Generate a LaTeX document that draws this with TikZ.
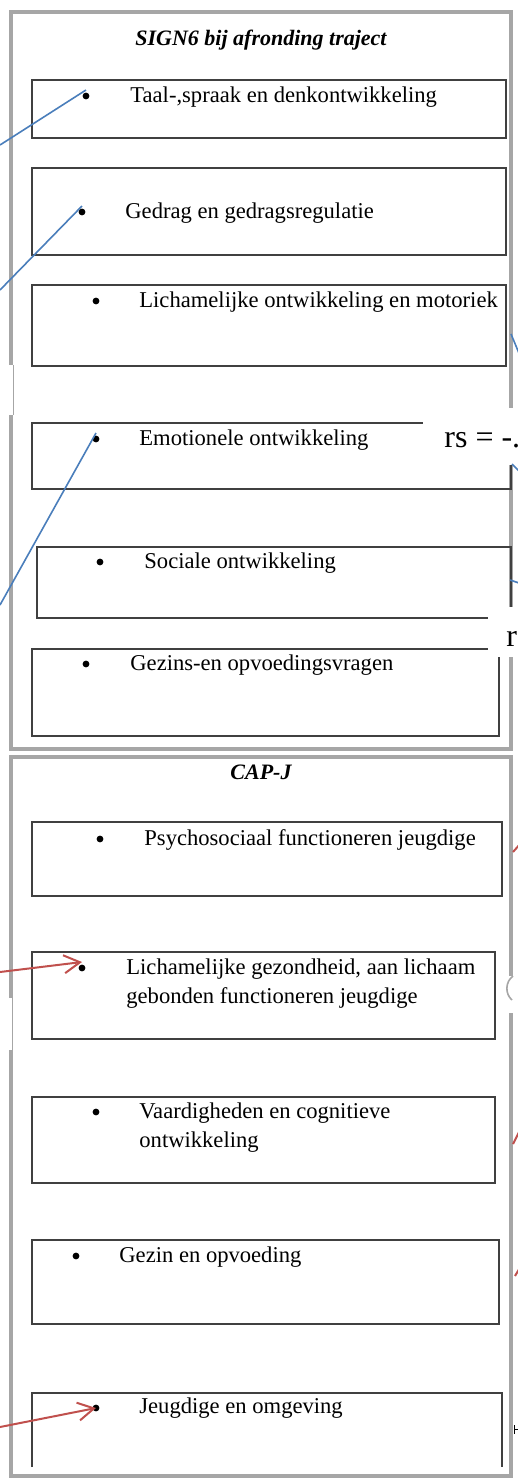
\documentclass[tikz,border=0pt]{standalone}
\usepackage{fontspec}
\setmainfont{Liberation Serif}
\usetikzlibrary{arrows.meta}
\definecolor{framegray}{RGB}{166,166,166}
\definecolor{boxgray}{RGB}{64,64,64}
\definecolor{signblue}{RGB}{74,126,187}
\definecolor{capred}{RGB}{192,80,77}
\tikzset{%
  panel/.style    = {draw=framegray, line width=2pt},
  item/.style     = {draw=boxgray, line width=0.6pt, rectangle, anchor=north west,
    inner sep=0pt, outer sep=0pt},
  bullet/.style   = {circle, fill=black, inner sep=0pt, minimum size=3.4pt, outer sep=1.3pt},
  txt/.style      = {anchor=base west, inner sep=0pt, align=left},
  heading/.style  = {anchor=base, inner sep=0pt, font=\fontsize{11}{14}\selectfont\bfseries\itshape},
  mask/.style     = {fill=white, draw=none},
  signlink/.style = {draw=signblue, line width=0.8pt},
  caplink/.style  = {draw=capred, line width=1pt, -{Straight Barb[length=8pt,width=9pt]}},
  input/.style    = {coordinate} % free end
}
\begin{document}
\begin{tikzpicture}[x=0.5pt, y=-0.5pt, font=\fontsize{11.3}{14.5}\selectfont]
  \useasboundingbox (0,0) rectangle (518,1479);
  % two panels
  \draw[panel] (11,12) rectangle (511,749);
  \draw[panel] (11,757) rectangle (511,1476);
  \fill[mask] (0,365) rectangle (14,415);
  \draw[framegray, line width=0.4pt] (13,365) -- (13,415);
  \fill[mask] (0,998) rectangle (14,1050);
  \draw[framegray, line width=0.4pt] (12,998) -- (12,1050);
  \fill[mask] (505,976) rectangle (518,1013);
  \draw[framegray, line width=0.8pt] (513,976) .. controls (505,982) and (505,994) .. (512,1000);

  \node[heading] (sign) at (261,45) {SIGN6 bij afronding traject};
  \node[heading] (capj) at (261,779) {CAP-J};

  % SIGN6 boxes
  \node[item, minimum width=237pt, minimum height=29pt] (taal) at (32,80) {};
  \node[item, minimum width=237pt, minimum height=43.5pt] (gedrag) at (32,168) {};
  \node[item, minimum width=237pt, minimum height=40.5pt] (lichaam) at (32,285) {};
  \node[item, minimum width=239.5pt, minimum height=33pt] (emotie) at (32,423) {};
  \node[item, minimum width=237pt, minimum height=35.5pt] (sociaal) at (37,547) {};
  \node[item, minimum width=233.5pt, minimum height=43.5pt] (gezins) at (32,649) {};
  % CAP-J boxes
  \node[item, minimum width=235pt, minimum height=37pt] (psycho) at (32,822) {};
  \node[item, minimum width=231.5pt, minimum height=43.5pt] (gezond) at (32,952) {};
  \node[item, minimum width=231.5pt, minimum height=43pt] (vaardig) at (32,1097) {};
  \node[item, minimum width=233.5pt, minimum height=42pt] (gezin) at (32,1240) {};
  \draw[boxgray, line width=0.6pt] (32,1467) |- (502,1393) -- (502,1467);

  \node[bullet] (b1) at (86,96) {};
  \node[txt] (t1) at (130,102) {Taal-,spraak en denkontwikkeling};
  \node[bullet] (b2) at (82,212) {};
  \node[txt] (t2) at (125,218) {Gedrag en gedragsregulatie};
  \node[bullet] (b3) at (96,301) {};
  \node[txt] (t3) at (139,307) {Lichamelijke ontwikkeling en motoriek};
  \node[bullet] (b4) at (96,439) {};
  \node[txt] (t4) at (139,445) {Emotionele ontwikkeling};
  \node[bullet] (b5) at (100,562) {};
  \node[txt] (t5) at (144,568) {Sociale ontwikkeling};
  \node[bullet] (b6) at (86,664) {};
  \node[txt] (t6) at (130,670) {Gezins-en opvoedingsvragen};
  \node[bullet] (b7) at (100,839) {};
  \node[txt] (t7) at (144,845) {Psychosociaal functioneren jeugdige};
  \node[bullet] (b8) at (82,968) {};
  \node[txt] (t8) at (126,1003) {Lichamelijke gezondheid, aan lichaam\\gebonden functioneren jeugdige};
  \node[bullet] (b9) at (96,1112) {};
  \node[txt] (t9) at (139,1147) {Vaardigheden en cognitieve\\ontwikkeling};
  \node[bullet] (b10) at (76,1256) {};
  \node[txt] (t10) at (119,1262) {Gezin en opvoeding};
  \node[bullet] (b11) at (96,1408) {};
  \node[txt] (t11) at (139,1413) {Jeugdige en omgeving};

  % labels cut off at the right
  \fill[mask] (423,408) rectangle (520,465);
  \node[txt, font=\fontsize{16}{18}\selectfont] (rs1) at (444,447) {rs = -.3};
  \fill[mask] (488,607) rectangle (520,657);
  \node[txt, font=\fontsize{16}{18}\selectfont] (rs2) at (506,646) {r};

  % links
  \node[input] (s1) at (0,145) {};
  \node[input] (s2) at (0,290) {};
  \node[input] (s3) at (0,605) {};
  \draw[signlink] (s1) -- (b1.north);
  \draw[signlink] (s2) -- (b2.north);
  \draw[signlink] (s3) -- (b4.north);
  \node[input] (c1) at (0,972) {};
  \node[input] (c2) at (0,1427) {};
  \draw[caplink] (c1) -- (b8.north);
  \draw[caplink] (c2) -- (b11.center);

  % ends of links from the right
  \coordinate (e1) at (511,334);
  \coordinate (f1) at (521,358);
  \coordinate (e2) at (512,464);
  \coordinate (f2) at (522,474);
  \coordinate (e3) at (510,580);
  \coordinate (f3) at (522,584);
  \draw[signlink] (e1) -- (f1);
  \draw[signlink] (e2) -- (f2);
  \draw[signlink] (e3) -- (f3);
  \coordinate (e4) at (513,852);
  \coordinate (f4) at (521,843);
  \coordinate (e5) at (513,1144);
  \coordinate (f5) at (521,1128);
  \coordinate (e6) at (515,1276);
  \coordinate (f6) at (521,1266);
  \draw[capred, line width=1pt] (e4) -- (f4);
  \draw[capred, line width=1pt] (e5) -- (f5);
  \draw[capred, line width=1pt] (e6) -- (f6);
  \draw[black, line width=0.5pt] (514,1425) -- (514,1434) (514,1429) -- (519,1429);
\end{tikzpicture}
\end{document}
